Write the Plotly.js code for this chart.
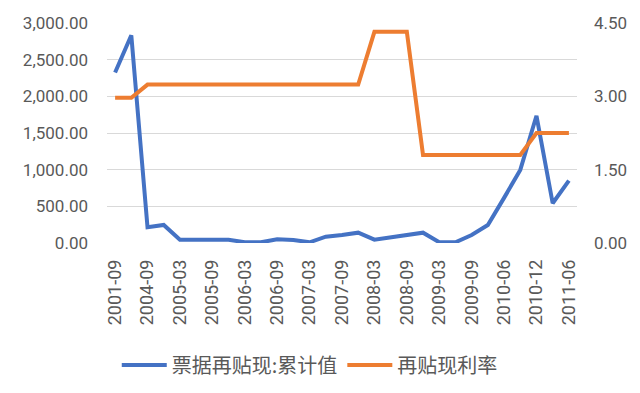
<!DOCTYPE html>
<html>
<head>
<meta charset="utf-8">
<script src="https://cdn.plot.ly/plotly-3.0.1.min.js"></script>
<style>html,body{margin:0;padding:0;background:#fff;}#chart{width:640px;height:393px;}</style>
</head>
<body>
<div id="chart"></div>
<script>
const categories = ["2001-09","2004-03","2004-09","2004-12","2005-03","2005-06","2005-09","2005-12","2006-03","2006-06","2006-09","2006-12","2007-03","2007-06","2007-09","2007-12","2008-03","2008-06","2008-09","2008-12","2009-03","2009-06","2009-09","2010-03","2010-06","2010-09","2010-12","2011-03","2011-06"];
const tickLabels = ["2001-09","2004-09","2005-03","2005-09","2006-03","2006-09","2007-03","2007-09","2008-03","2008-09","2009-03","2009-09","2010-06","2010-12","2011-06"];
const rediscountCumulative = [2326,2832,214,246,45,45,45,45,10,10,50,41,10,86,109,141,45,78,109,141,10,10,109,246,615,997,1735,542,851];
const rediscountRate = [2.97,2.97,3.24,3.24,3.24,3.24,3.24,3.24,3.24,3.24,3.24,3.24,3.24,3.24,3.24,3.24,4.32,4.32,4.32,1.80,1.80,1.80,1.80,1.80,1.80,1.80,2.25,2.25,2.25];
const seriesNames = ["票据再贴现:累计值","再贴现利率"];

const fontFam = "Roboto, 'Noto Sans CJK SC', sans-serif";
const data = [
  {x: categories, y: rediscountCumulative, name: seriesNames[0], type: "scatter", mode: "lines",
   line: {color: "#4472C4", width: 4}, yaxis: "y"},
  {x: categories, y: rediscountRate, name: seriesNames[1], type: "scatter", mode: "lines",
   line: {color: "#ED7D31", width: 4}, yaxis: "y2"}
];
const layout = {
  width: 640, height: 393,
  margin: {l: 107, r: 63, t: 23, b: 150},
  paper_bgcolor: "#fff", plot_bgcolor: "#fff",
  font: {family: fontFam, color: "#595959", size: 17},
  showlegend: true,
  legend: {orientation: "h", x: 0.484, xref: "container", xanchor: "center", y: 0.071, yref: "container", yanchor: "middle",
    font: {size: 20, color: "#595959", family: "'Noto Sans CJK SC', Roboto, sans-serif"}, itemwidth: 45, tracegroupgap: 0},
  xaxis: {type: "category", tickvals: tickLabels, ticktext: tickLabels, tickangle: -90,
    showgrid: false, zeroline: false, showline: false, ticks: "", ticklabelstandoff: 12,
    tickfont: {size: 18, color: "#595959"}, range: [-0.5, categories.length - 0.5]},
  yaxis: {range: [0, 3000], dtick: 500, tickformat: ",.2f", showgrid: true, gridcolor: "#d9d9d9", gridwidth: 1,
    zeroline: false, showline: false, ticks: "", ticklabelstandoff: 18, tickfont: {size: 17, color: "#595959"}},
  yaxis2: {range: [0, 4.5], dtick: 1.5, tickformat: ".2f", overlaying: "y", side: "right", showgrid: false,
    zeroline: false, showline: false, ticks: "", ticklabelstandoff: 16, tickfont: {size: 17, color: "#595959"}}
};
Plotly.newPlot("chart", data, layout, {displayModeBar: false, staticPlot: true});
</script>
</body>
</html>
